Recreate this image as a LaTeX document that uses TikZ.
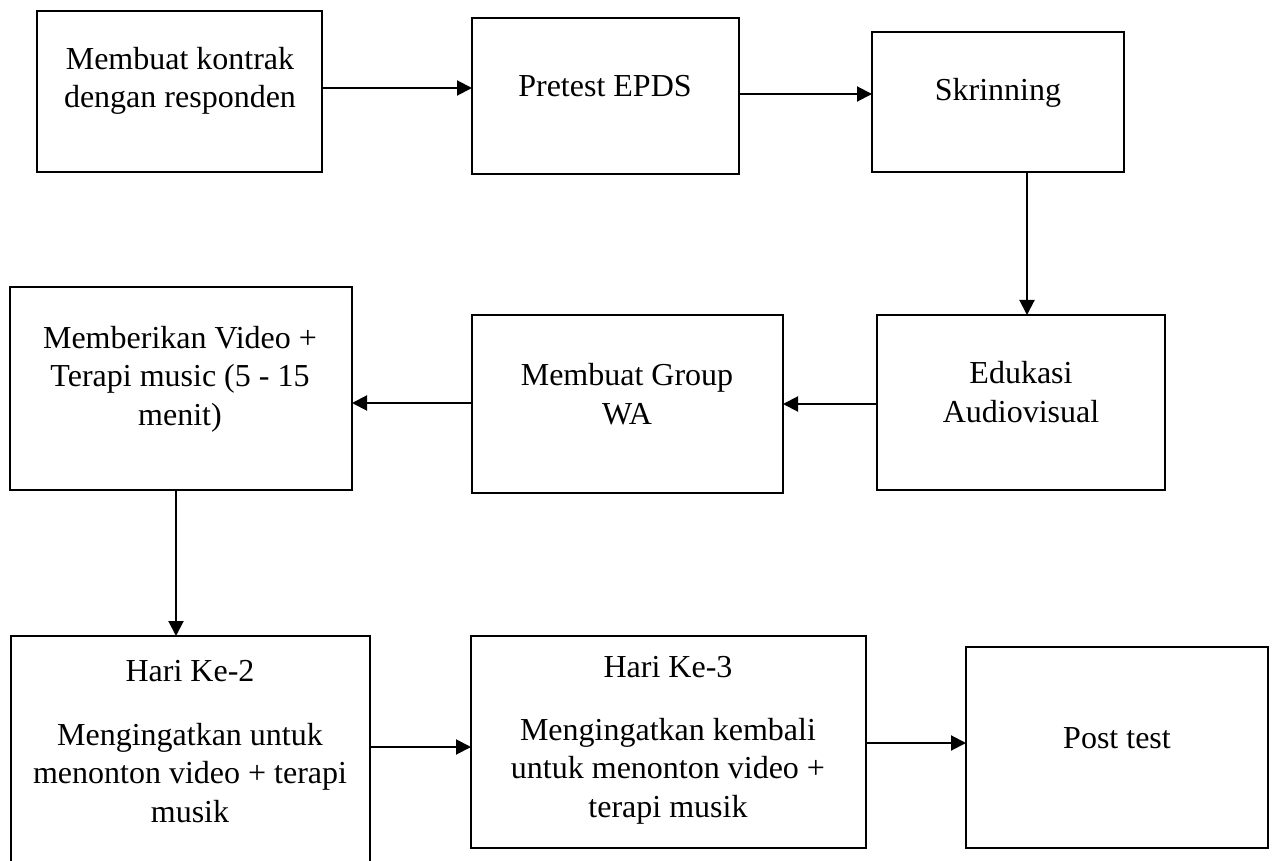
\documentclass[tikz,border=0pt]{standalone}
\usepackage{fontspec}
\setmainfont{Liberation Serif}
\usetikzlibrary{arrows.meta}
\begin{document}
\begin{tikzpicture}[x=0.5pt,y=-0.5pt,
  box/.style={draw=black,line width=1.3pt,inner sep=0pt,outer sep=0pt},
  txt/.style={inner sep=0pt,align=center,font=\fontsize{16}{19.3}\selectfont},
  arr/.style={line width=1pt,-{Triangle[length=7.5pt,width=7.5pt]}}]
\fill[white] (0,0) rectangle (1275,861);
\useasboundingbox (0,0) rectangle (1275,861);
% boxes
\node[box,minimum width=142.5pt,minimum height=80.5pt] (b1) at (179.5,91.5) {};
\node[box,minimum width=133.5pt,minimum height=78pt]   (b2) at (605.5,96) {};
\node[box,minimum width=126pt,minimum height=70pt]     (b3) at (998,102) {};
\node[box,minimum width=144pt,minimum height=87.5pt]   (b4) at (1021,402.5) {};
\node[box,minimum width=155.5pt,minimum height=89pt]   (b5) at (627.5,404) {};
\node[box,minimum width=171pt,minimum height=101.5pt]  (b6) at (181,388.5) {};
\node[box,minimum width=179.5pt,minimum height=117pt]  (b7) at (190.5,753) {};
\node[box,minimum width=197.5pt,minimum height=106pt]  (b8) at (668.5,742) {};
\node[box,minimum width=151pt,minimum height=100.5pt]  (b9) at (1117,747.5) {};
% texts
\node[txt] (t1) at (180,81) {Membuat kontrak\\dengan responden};
\node[txt] (t2) at (605,86) {Pretest EPDS};
\node[txt] (t3) at (998,93) {Skrinning};
\node[txt] (t4) at (1021,392) {Edukasi\\Audiovisual};
\node[txt] (t5) at (627,394) {Membuat Group\\WA};
\node[txt] (t6) at (180,379) {Memberikan Video +\\Terapi music (5 - 15\\menit)};
\node[txt] (t7a) at (190,671) {Hari Ke-2};
\node[txt] (t7b) at (190,773) {Mengingatkan untuk\\menonton video + terapi\\musik};
\node[txt] (t8a) at (668,667) {Hari Ke-3};
\node[txt] (t8b) at (668,771) {Mengingatkan kembali\\untuk menonton video +\\terapi musik};
\node[txt] (t9) at (1117,738) {Post test};
% connectors
\draw[arr] (b1.east |- 0,88) -- (b2.west |- 0,88);
\draw[arr] (b2.east |- 0,94) -- (b3.west |- 0,94);
\draw[arr] (b3.south -| 1027,0) -- (b4.north -| 1027,0);
\draw[arr] (b4.west |- 0,404) -- (b5.east |- 0,404);
\draw[arr] (b5.west |- 0,403) -- (b6.east |- 0,403);
\draw[arr] (b6.south -| 176,0) -- (b7.north -| 176,0);
\draw[arr] (b7.east |- 0,747) -- (b8.west |- 0,747);
\draw[arr] (b8.east |- 0,743) -- (b9.west |- 0,743);
\end{tikzpicture}
\end{document}
